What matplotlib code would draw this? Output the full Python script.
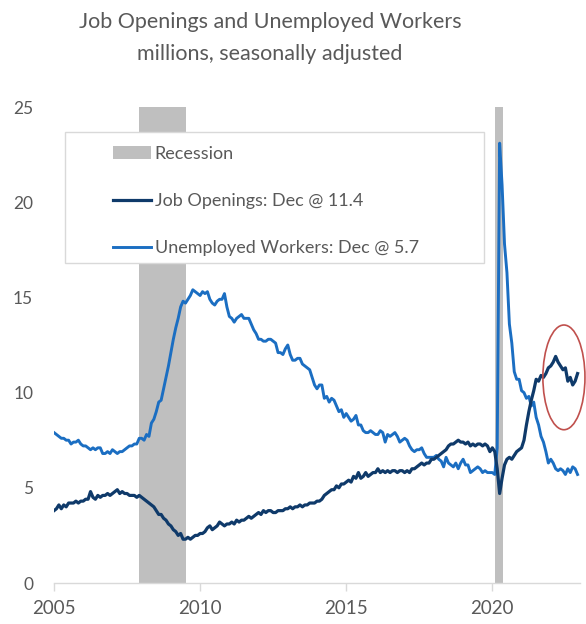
import numpy as np
import matplotlib
matplotlib.use("Agg")
import matplotlib.pyplot as plt
from matplotlib.patches import Rectangle, Ellipse, Patch
from matplotlib.lines import Line2D


# monthly values, Jan 2005 .. Dec 2022 (millions, SA)
job_openings = [
    3.8, 3.9, 4.1, 3.9, 4.1, 4.0, 4.2, 4.2, 4.2, 4.3, 4.2, 4.3,  # 2005
    4.3, 4.4, 4.4, 4.8, 4.5, 4.4, 4.6, 4.5, 4.6, 4.6, 4.7, 4.6,  # 2006
    4.7, 4.8, 4.9, 4.7, 4.8, 4.7, 4.7, 4.6, 4.6, 4.6, 4.5, 4.6,  # 2007
    4.5, 4.4, 4.3, 4.2, 4.1, 4.0, 3.8, 3.6, 3.6, 3.4, 3.3, 3.1,  # 2008
    3.0, 2.8, 2.7, 2.5, 2.6, 2.3, 2.3, 2.4, 2.3, 2.4, 2.5, 2.5,  # 2009
    2.6, 2.6, 2.7, 2.9, 3.0, 2.8, 2.9, 3.0, 3.2, 3.1, 3.0, 3.1,  # 2010
    3.1, 3.2, 3.1, 3.3, 3.2, 3.3, 3.3, 3.4, 3.5, 3.4, 3.5, 3.6,  # 2011
    3.7, 3.6, 3.8, 3.7, 3.8, 3.8, 3.7, 3.7, 3.8, 3.8, 3.8, 3.9,  # 2012
    3.9, 4.0, 3.9, 4.0, 4.0, 4.1, 4.0, 4.1, 4.1, 4.2, 4.2, 4.2,  # 2013
    4.3, 4.3, 4.4, 4.6, 4.7, 4.8, 4.9, 4.9, 5.1, 5.0, 5.2, 5.2,  # 2014
    5.3, 5.4, 5.3, 5.6, 5.5, 5.8, 5.5, 5.6, 5.8, 5.6, 5.7, 5.8,  # 2015
    5.8, 6.0, 5.8, 5.9, 5.8, 5.9, 5.8, 5.9, 5.9, 5.8, 5.9, 5.9,  # 2016
    5.8, 5.9, 5.8, 6.0, 6.0, 6.1, 6.2, 6.3, 6.2, 6.3, 6.3, 6.5,  # 2017
    6.5, 6.6, 6.7, 6.8, 6.9, 7.0, 7.2, 7.3, 7.3, 7.4, 7.5, 7.4,  # 2018
    7.4, 7.3, 7.4, 7.2, 7.3, 7.2, 7.3, 7.3, 7.2, 7.3, 7.2, 6.9,  # 2019
    7.1, 6.9, 6.0, 4.7, 5.5, 6.2, 6.5, 6.6, 6.5, 6.7, 6.9, 7.0,  # 2020
    7.1, 7.5, 8.3, 9.0, 9.6, 10.1, 10.7, 10.6, 10.9, 10.8, 11.0, 11.3,  # 2021
    11.4, 11.6, 11.9, 11.6, 11.4, 11.2, 11.3, 10.6, 10.8, 10.4, 10.6, 11.0,  # 2022
]

unemployed = [
    7.9, 7.8, 7.7, 7.6, 7.6, 7.5, 7.5, 7.3, 7.4, 7.4, 7.5, 7.3,  # 2005
    7.2, 7.2, 7.1, 7.0, 7.1, 7.0, 7.1, 7.1, 6.8, 6.8, 6.9, 6.8,  # 2006
    7.0, 6.9, 6.8, 6.9, 6.9, 7.0, 7.1, 7.2, 7.2, 7.3, 7.3, 7.6,  # 2007
    7.6, 7.5, 7.8, 7.7, 8.4, 8.6, 9.0, 9.5, 9.6, 10.2, 10.8, 11.4,  # 2008
    12.1, 12.8, 13.4, 13.9, 14.5, 14.8, 14.7, 14.9, 15.1, 15.4, 15.3, 15.2,  # 2009
    15.1, 15.3, 15.2, 15.3, 14.9, 14.7, 14.6, 14.8, 14.9, 14.9, 15.2, 14.5,  # 2010
    14.0, 13.9, 13.7, 13.9, 14.0, 14.1, 13.9, 13.9, 13.9, 13.6, 13.3, 13.1,  # 2011
    12.8, 12.8, 12.7, 12.7, 12.8, 12.8, 12.7, 12.6, 12.1, 12.1, 12.0, 12.3,  # 2012
    12.5, 12.0, 11.7, 11.7, 11.8, 11.8, 11.5, 11.4, 11.3, 11.2, 10.8, 10.4,  # 2013
    10.2, 10.4, 10.4, 9.7, 9.8, 9.5, 9.7, 9.6, 9.3, 9.0, 9.1, 8.7,  # 2014
    8.9, 8.7, 8.5, 8.6, 8.8, 8.3, 8.3, 8.0, 7.9, 7.9, 8.0, 7.9,  # 2015
    7.8, 7.8, 8.0, 7.9, 7.4, 7.8, 7.7, 7.8, 7.9, 7.7, 7.4, 7.5,  # 2016
    7.6, 7.5, 7.2, 7.0, 6.9, 7.0, 7.0, 7.1, 6.8, 6.6, 6.6, 6.6,  # 2017
    6.6, 6.7, 6.5, 6.4, 6.1, 6.6, 6.3, 6.2, 6.1, 6.3, 6.0, 6.3,  # 2018
    6.5, 6.2, 6.2, 5.8, 5.9, 6.0, 6.1, 6.0, 5.8, 5.9, 5.8, 5.8,  # 2019
    5.8, 5.7, 7.1, 23.1, 20.9, 17.8, 16.3, 13.6, 12.6, 11.1, 10.7, 10.7,  # 2020
    10.1, 10.0, 9.7, 9.8, 9.3, 9.5, 8.7, 8.3, 7.7, 7.4, 6.9, 6.3,  # 2021
    6.5, 6.3, 6.0, 5.9, 6.0, 5.9, 5.7, 6.0, 5.8, 6.1, 6.0, 5.7,  # 2022
]

start_year = 2005
recessions = [(2007.92, 2009.50), (2020.09, 2020.37)]
x_ticks = [2005, 2010, 2015, 2020]
y_ticks = [0, 5, 10, 15, 20, 25]

labels = ["Recession", "Job Openings: Dec @ 11.4", "Unemployed Workers: Dec @ 5.7"]
title = "Job Openings and Unemployed Workers\nmillions, seasonally adjusted"

NAVY = "#0f3a6a"
BLUE = "#1b6ec2"
GRAY = "#bfbfbf"
TEXT = "#595959"

plt.rcParams["font.family"] = ["Lato", "DejaVu Sans"]

months = start_year + np.arange(len(job_openings)) / 12.0

fig = plt.figure(figsize=(5.86, 6.24), dpi=100)
ax = fig.add_axes([54 / 586, 41 / 624, 526 / 586, 476 / 624])

for a, b in recessions:
    ax.axvspan(a, b, color=GRAY, lw=0, zorder=1)

ax.plot(months, unemployed, color=BLUE, lw=2.1, zorder=3)
ax.plot(months, job_openings, color=NAVY, lw=2.3, zorder=4)

ax.set_xlim(2005, 2023)
ax.set_ylim(0, 25)
ax.set_xticks(x_ticks)
ax.set_yticks(y_ticks)
ax.tick_params(axis="y", length=0, pad=15, labelsize=12.5, labelcolor=TEXT)
ax.tick_params(axis="x", length=6, width=1, color="#d9d9d9", pad=6,
               labelsize=13.5, labelcolor=TEXT)
for s in ["top", "right", "left"]:
    ax.spines[s].set_visible(False)
ax.spines["bottom"].set_color("#d9d9d9")
ax.spines["bottom"].set_linewidth(1)

# circled recent openings
ax.add_patch(Ellipse((2022.45, 10.8), 1.44, 5.5, fill=False,
                     edgecolor="#c0504d", lw=1.2, zorder=5, clip_on=False))

# legend box
ax.add_patch(Rectangle((11 / 526, 320 / 476), 419 / 526, 131 / 476,
                       transform=ax.transAxes, facecolor="white",
                       edgecolor="#d9d9d9", lw=1, zorder=6))
handles = [Patch(facecolor=GRAY, edgecolor="none"),
           Line2D([], [], color=NAVY, lw=2.3),
           Line2D([], [], color=BLUE, lw=2.1)]
leg = ax.legend(handles, labels, loc="upper left",
                bbox_to_anchor=(50 / 526, 446 / 476), frameon=False,
                borderpad=0, fontsize=13, handlelength=2.1,
                handletextpad=0.2, labelspacing=1.72)
leg.set_zorder(7)
for t in leg.get_texts():
    t.set_color(TEXT)

fig.text(270 / 586, 1 - 38 / 624, title, ha="center", va="center",
         fontsize=15.5, color=TEXT, linespacing=1.72)

fig.savefig("out.png", dpi=100)
